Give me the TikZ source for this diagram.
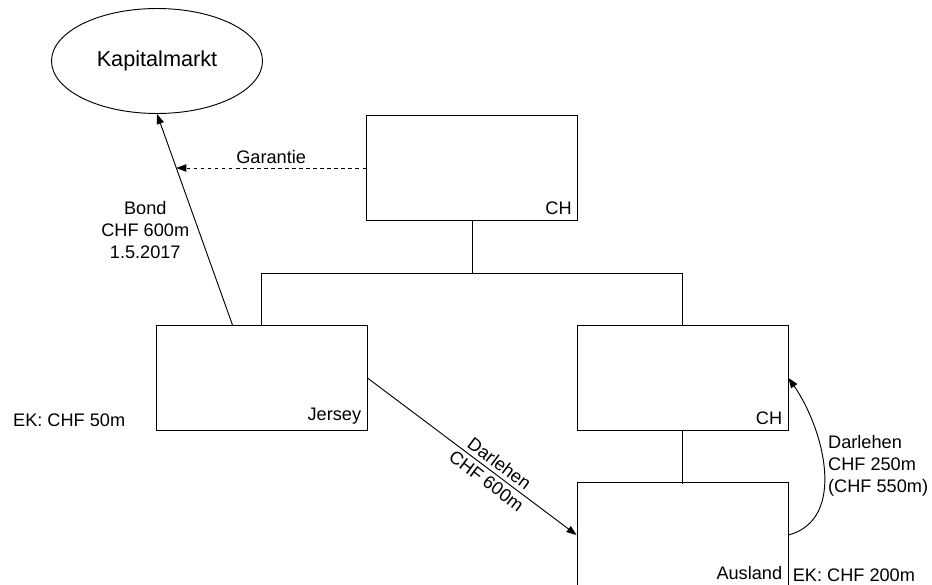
\documentclass[tikz,border=0pt]{standalone}
\usepackage{fontspec}
\setmainfont{Liberation Sans}
\usetikzlibrary{shapes.geometric,arrows.meta,positioning}
\begin{document}
\begin{tikzpicture}[
  thick,
  level 1/.style={level distance=6.3cm, sibling distance=12.63cm},
  level 2/.style={level distance=4.71cm},
  edge from parent path={(\tikzparentnode.south) -- ++(0,-1.56) -| (\tikzchildnode.north)},
  every node/.style={font=\fontsize{15.5}{18.8}\selectfont},
  entity/.style={rectangle, draw, minimum width=6.33cm, minimum height=3.15cm},
  corner/.style={anchor=south east, inner sep=5pt},
  flow/.style={-{Triangle[length=3mm,width=2.2mm]}}
]
\useasboundingbox (0,0) rectangle (27.96,-17.55);
\clip (0,0) rectangle (27.96,-17.55);

\node[ellipse, draw, minimum width=6.33cm, minimum height=3.15cm,
  font=\fontsize{18.5}{22}\selectfont] (markt) at (4.71,-1.83) {Kapitalmarkt};

\node[entity, label={[corner]south east:CH}] (topch) at (14.16,-5.04) {}
  child { node[entity, label={[corner]south east:Jersey}] (jersey) {} }
  child { node[entity, label={[corner]south east:CH}] (ch) {}
    child { node[entity, label={[corner, yshift=0.06cm]south east:Ausland}] (ausland) {} }
  };

\node[anchor=south east] (ekjersey) at ([xshift=-0.78cm]jersey.south west) {EK: CHF 50m};
\node[anchor=south west] (ekausland) at ([yshift=0.06cm]ausland.south east) {EK: CHF 200m};

\draw[flow] ([xshift=-0.87cm]jersey.north)
  -- node[pos=0.45, left, xshift=-0.15cm, align=center] {Bond\\CHF 600m\\1.5.2017}
  coordinate[pos=0.744] (garant) (markt.south);
\draw[flow, dashed] (topch.west) -- node[above] {Garantie} (topch.west -| garant);

\draw[flow] (jersey.east)
  -- node[pos=0.6, sloped, above] {Darlehen}
     node[pos=0.6, sloped, below] {CHF 600m} (ausland.west);
\draw[flow] (ausland.east) to[out=15, in=-55]
  node[pos=0.5, right, yshift=0.12cm, align=left] {Darlehen\\CHF 250m\\(CHF 550m)} (ch.east);
\end{tikzpicture}
\end{document}
